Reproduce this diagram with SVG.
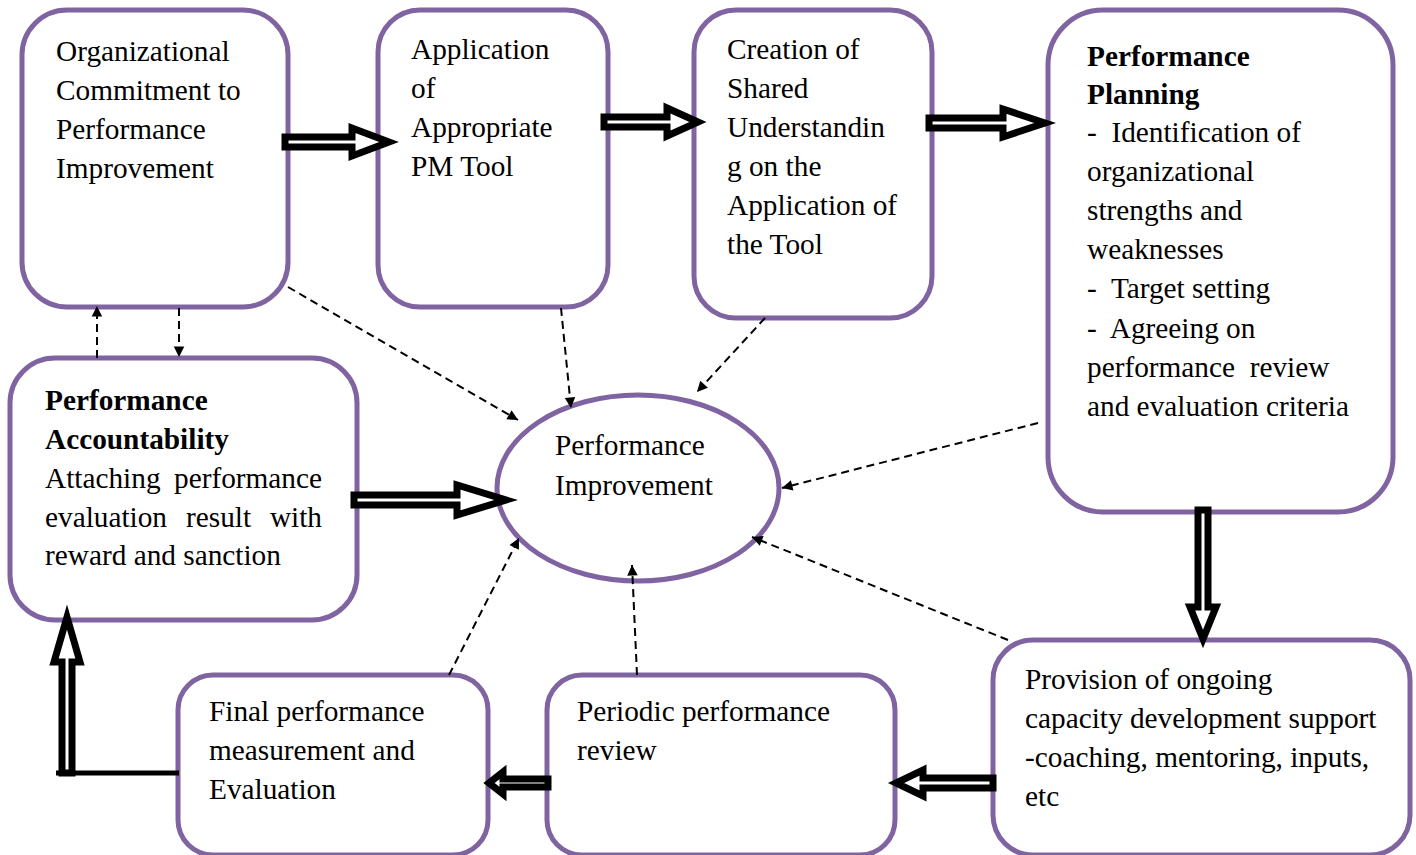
<svg xmlns="http://www.w3.org/2000/svg" width="1416" height="855" viewBox="0 0 1416 855">
<style>
.box{fill:#fff;stroke:#8064A2;stroke-width:5}
.t{font-family:"Liberation Serif","Times New Roman",serif;font-size:29.3px;fill:#000;white-space:pre}
.b{font-weight:bold}
.blk{fill:#fff;stroke:#000;stroke-width:7;stroke-linejoin:miter;stroke-miterlimit:10}
.dash{fill:none;stroke:#000;stroke-width:2;stroke-dasharray:8,5;marker-end:url(#ah)}
</style>
<defs>
<marker id="ah" viewBox="0 0 10 10" refX="10" refY="5" markerWidth="7" markerHeight="7" markerUnits="userSpaceOnUse" orient="auto" style="overflow:visible">
<path d="M0,0 L10,5 L0,10 z" fill="#000" transform="scale(1.5) translate(-3.3,-1.7)"/>
</marker>
</defs>
<rect width="1416" height="855" fill="#fff"/>

<g id="n1"><rect class="box" x="22" y="10" width="266" height="297" rx="45"/>
<text class="t" x="56" y="61">Organizational</text><text class="t" x="56" y="100">Commitment to</text><text class="t" x="56" y="139">Performance</text><text class="t" x="56" y="178">Improvement</text></g>

<g id="n2"><rect class="box" x="378" y="10" width="230" height="297" rx="42"/>
<text class="t" x="411" y="59">Application</text><text class="t" x="411" y="98">of</text><text class="t" x="411" y="137">Appropriate</text><text class="t" x="411" y="176">PM Tool</text></g>

<g id="n3"><rect class="box" x="694" y="10" width="238" height="308" rx="42"/>
<text class="t" x="727" y="59">Creation of</text><text class="t" x="727" y="98">Shared</text><text class="t" x="727" y="137">Understandin</text><text class="t" x="727" y="176">g on the</text><text class="t" x="727" y="215">Application of</text><text class="t" x="727" y="254">the Tool</text></g>

<g id="n4"><rect class="box" x="1048" y="10" width="345" height="502" rx="55"/>
<text class="t b" x="1087" y="66">Performance</text><text class="t b" x="1087" y="104">Planning</text>
<text class="t" x="1087" y="142">-  Identification of</text><text class="t" x="1087" y="181">organizational</text><text class="t" x="1087" y="220">strengths and</text><text class="t" x="1087" y="259">weaknesses</text><text class="t" x="1087" y="298">-  Target setting</text><text class="t" x="1087" y="338">-  Agreeing on</text><text class="t" x="1087" y="377">performance  review</text><text class="t" x="1087" y="416">and evaluation criteria</text></g>

<g id="n5"><rect class="box" x="10" y="358" width="347" height="262" rx="45"/>
<text class="t b" x="45" y="410">Performance</text><text class="t b" x="45" y="449">Accountability</text>
<text class="t" x="45" y="488">Attaching</text><text class="t" x="322" y="488" text-anchor="end">performance</text>
<text class="t" x="45" y="527">evaluation</text><text class="t" x="186" y="527">result</text><text class="t" x="322" y="527" text-anchor="end">with</text>
<text class="t" x="45" y="565">reward and sanction</text></g>

<g id="n6"><ellipse cx="638" cy="488" rx="141" ry="93" fill="#fff" stroke="#8064A2" stroke-width="5"/>
<text class="t" x="555" y="455">Performance</text><text class="t" x="555" y="495">Improvement</text></g>

<g id="n7"><rect class="box" x="178" y="675" width="310" height="180" rx="35"/>
<text class="t" x="209" y="721">Final performance</text><text class="t" x="209" y="760">measurement and</text><text class="t" x="209" y="799">Evaluation</text></g>

<g id="n8"><rect class="box" x="547" y="675" width="348" height="180" rx="35"/>
<text class="t" x="577" y="721">Periodic performance</text><text class="t" x="577" y="760">review</text></g>

<g id="n9"><rect class="box" x="993" y="640" width="417" height="215" rx="40"/>
<text class="t" x="1025" y="689">Provision of ongoing</text><text class="t" x="1025" y="728">capacity development support</text><text class="t" x="1025" y="767">-coaching, mentoring, inputs,</text><text class="t" x="1025" y="806">etc</text></g>

<g id="connectors">
<polygon class="blk" points="285,137 352,137 352,128 389,142 352,156 352,147 285,147"/>
<polygon class="blk" points="604,117 667,117 667,108 698,122 667,136 667,127 604,127"/>
<polygon class="blk" points="929,118 1003,118 1003,109 1045,123 1003,137 1003,128 929,128"/>
<polygon class="blk" points="354,495 457,495 457,485 506,500 457,515 457,505 354,505"/>
<polygon class="blk" points="1198,510 1198,607 1190,607 1203,639 1216,607 1208,607 1208,510"/>
<polygon class="blk" points="993,778 923,778 923,770 896,783 923,796 923,788 993,788"/>
<polygon class="blk" points="548,779 503,779 503,772 489,783 503,794 503,787 548,787"/>
<polygon class="blk" points="62,773 62,662 54,662 67,617 80,662 72,662 72,773"/>
<line x1="56" y1="773" x2="179" y2="773" stroke="#000" stroke-width="5"/>

<line class="dash" x1="288" y1="287" x2="518" y2="420"/>
<line class="dash" x1="561" y1="308" x2="571" y2="408"/>
<line class="dash" x1="765" y1="318" x2="697" y2="392"/>
<line class="dash" x1="1038" y1="423" x2="782" y2="488"/>
<line class="dash" x1="1008" y1="640" x2="752" y2="537"/>
<line class="dash" x1="637" y1="675" x2="632" y2="565"/>
<line class="dash" x1="449" y1="675" x2="519" y2="538"/>
<line class="dash" x1="97" y1="358" x2="97" y2="306"/>
<line class="dash" x1="179" y1="308" x2="179" y2="357"/>
</g>
</svg>
